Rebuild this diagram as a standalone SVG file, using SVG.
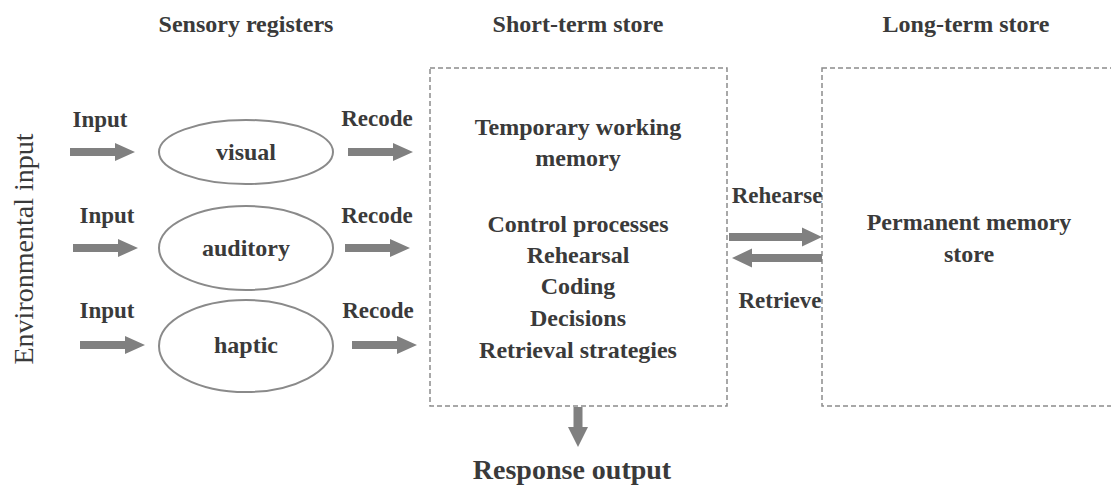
<svg xmlns="http://www.w3.org/2000/svg" width="1111" height="486" viewBox="0 0 1111 486">
<style>
  .t{font-family:"Liberation Serif","Times New Roman",serif;font-weight:bold;fill:#3a3a3a;text-anchor:middle}
  .h{font-size:24px}
  .b{font-size:24px}
  .s{font-size:23px}
  .env{font-family:"Liberation Serif","Times New Roman",serif;font-size:28px;fill:#3a3a3a;text-anchor:middle}
  .box{fill:none;stroke:#8c8c8c;stroke-width:1.5;stroke-dasharray:5 3}
  .ell{fill:none;stroke:#8a8a8a;stroke-width:2}
  .arr{fill:#808080}
</style>
<rect width="1111" height="486" fill="#ffffff"/>

<g id="headers">
  <text class="t h" x="246" y="32">Sensory registers</text>
  <text class="t h" x="578" y="32">Short-term store</text>
  <text class="t h" x="966" y="32">Long-term store</text>
</g>

<g id="environmental-input">
  <text class="env" transform="translate(33,249) rotate(-90)">Environmental input</text>
</g>

<g id="node-visual">
  <ellipse class="ell" cx="246" cy="152" rx="87" ry="32"/>
  <text class="t b" x="246" y="160">visual</text>
</g>
<g id="node-auditory">
  <ellipse class="ell" cx="246" cy="248" rx="87" ry="42"/>
  <text class="t b" x="246" y="256">auditory</text>
</g>
<g id="node-haptic">
  <ellipse class="ell" cx="246" cy="346" rx="87" ry="46"/>
  <text class="t b" x="246" y="353">haptic</text>
</g>

<g id="node-short-term">
  <rect class="box" x="430" y="68" width="297" height="338"/>
  <text class="t b" x="578" y="135">Temporary working</text>
  <text class="t b" x="578" y="166">memory</text>
  <text class="t b" x="578" y="232">Control processes</text>
  <text class="t b" x="578" y="263">Rehearsal</text>
  <text class="t b" x="578" y="294">Coding</text>
  <text class="t b" x="578" y="326">Decisions</text>
  <text class="t b" x="578" y="358">Retrieval strategies</text>
</g>

<g id="node-long-term">
  <rect class="box" x="822" y="68" width="320" height="338"/>
  <text class="t b" x="969" y="230">Permanent memory</text>
  <text class="t b" x="969" y="262">store</text>
</g>

<g id="node-response">
  <text class="t" style="font-size:28px" x="572" y="479">Response output</text>
</g>

<g id="connectors">
  <polygon class="arr" points="70,148 115,148 115,143 135,152 115,161 115,156 70,156"/>
  <polygon class="arr" points="73,244 118,244 118,239 138,248 118,257 118,252 73,252"/>
  <polygon class="arr" points="80,341 125,341 125,336 145,345 125,354 125,349 80,349"/>
  <polygon class="arr" points="348,148 393,148 393,143 413,152 393,161 393,156 348,156"/>
  <polygon class="arr" points="345,244 390,244 390,239 410,248 390,257 390,252 345,252"/>
  <polygon class="arr" points="352,341 397,341 397,336 417,345 397,354 397,349 352,349"/>
  <polygon class="arr" points="729,233 802,233 802,227.5 822,237 802,246.5 802,241 729,241"/>
  <polygon class="arr" points="822,254 752,254 752,248.5 732,258 752,267.5 752,262 822,262"/>
  <polygon class="arr" points="573.5,407 582.5,407 582.5,427 588,427 578,447 568,427 573.5,427"/>
  <text class="t s" x="100" y="127">Input</text>
  <text class="t s" x="107" y="223">Input</text>
  <text class="t s" x="107" y="318">Input</text>
  <text class="t s" x="377" y="126">Recode</text>
  <text class="t s" x="377" y="223">Recode</text>
  <text class="t s" x="378" y="318">Recode</text>
  <text class="t s" x="777" y="203">Rehearse</text>
  <text class="t s" x="780" y="308">Retrieve</text>
</g>
</svg>
